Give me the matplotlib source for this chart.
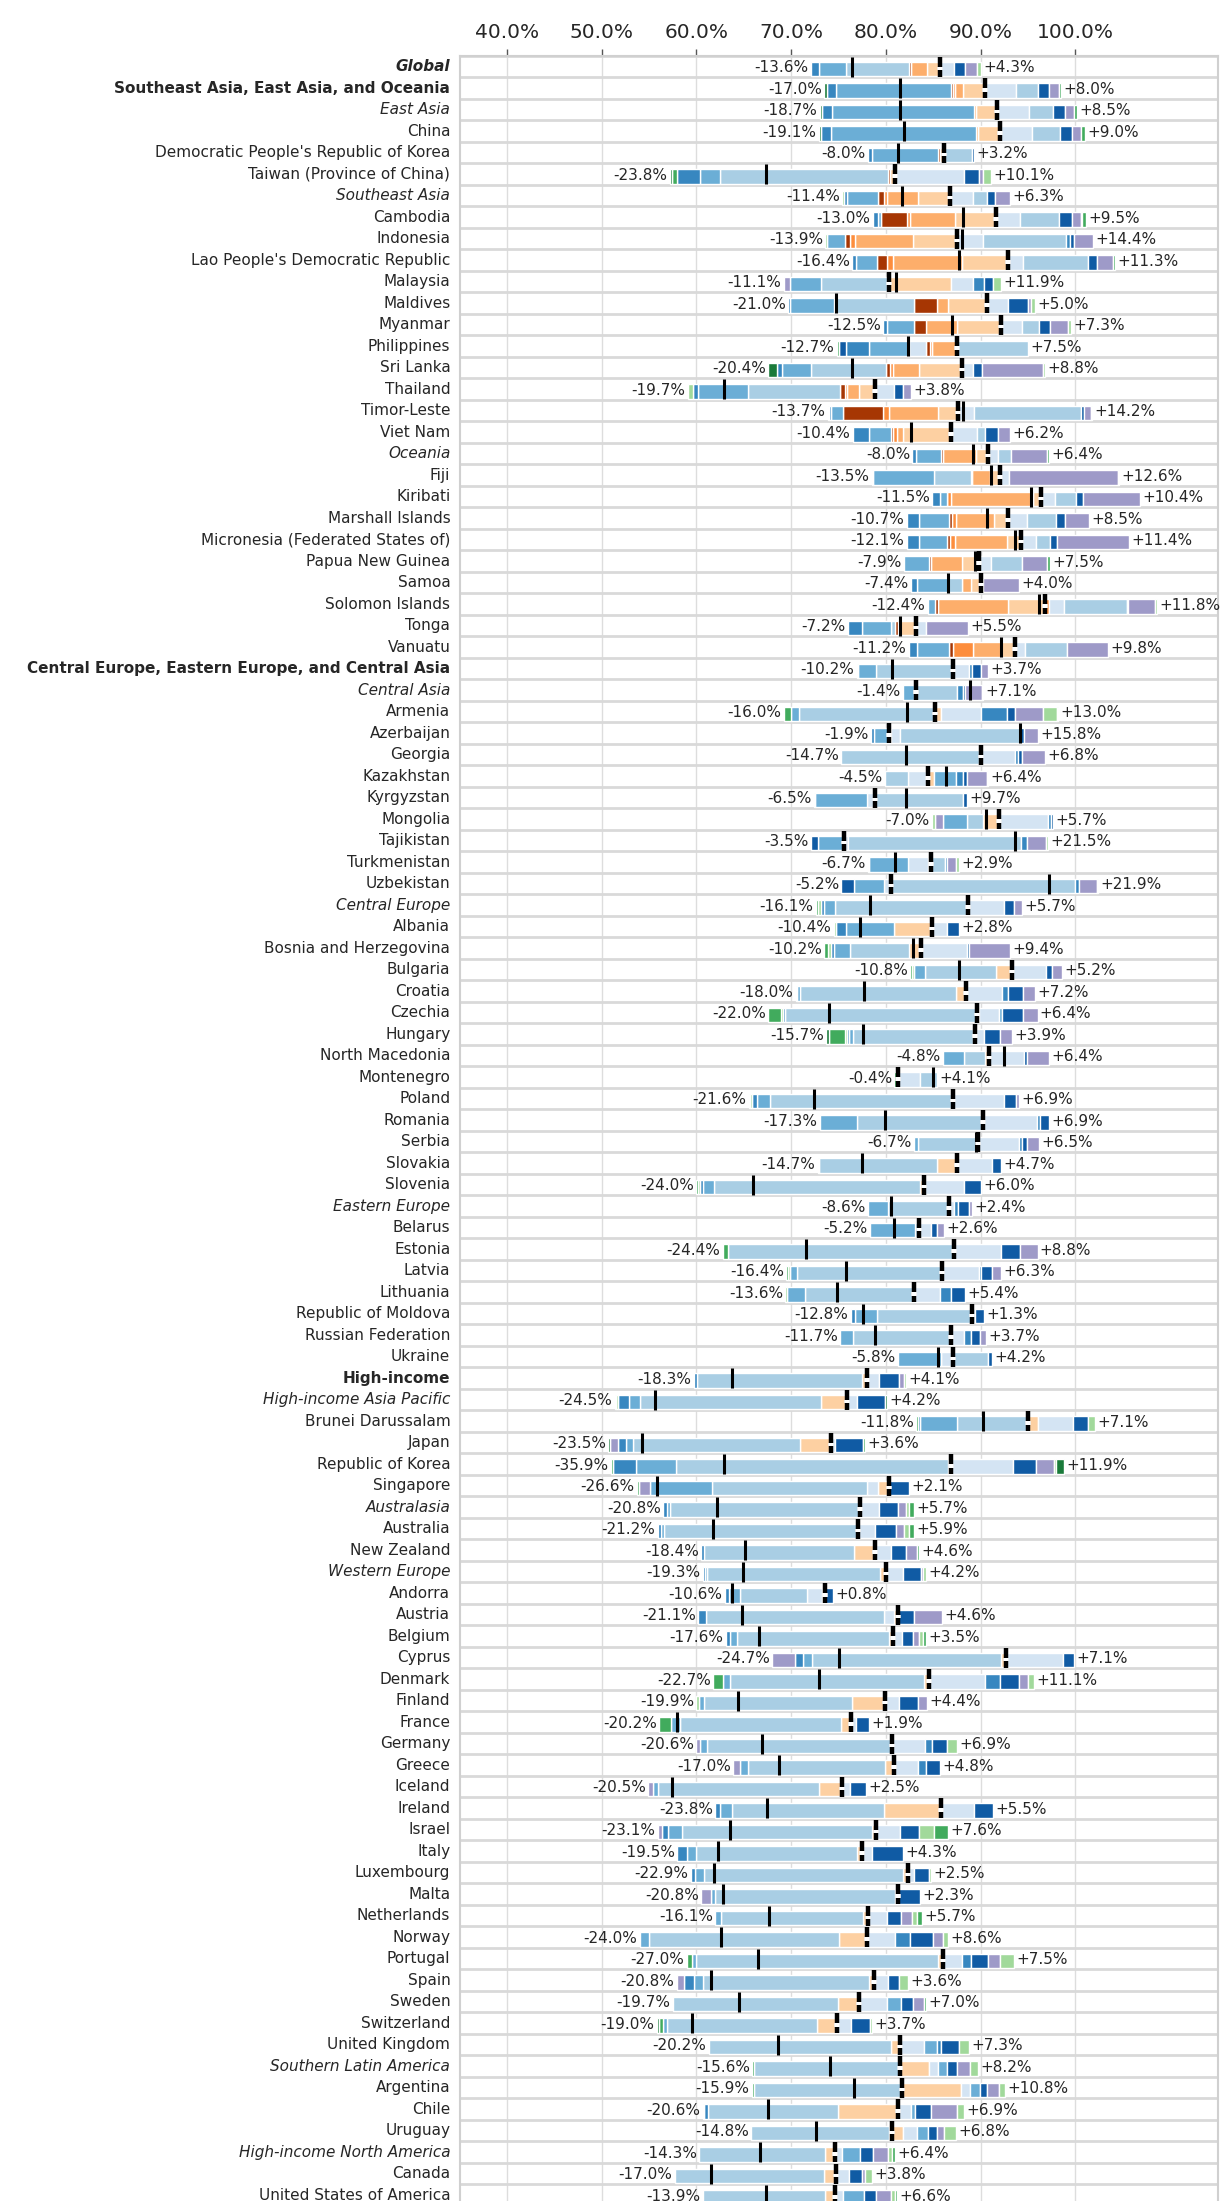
import matplotlib.pyplot as plt
import numpy as np

# rows, top to bottom
locations = [
    "Global", "Southeast Asia, East Asia, and Oceania", "East Asia", "China",
    "Democratic People's Republic of Korea", "Taiwan (Province of China)", "Southeast Asia",
    "Cambodia", "Indonesia", "Lao People's Democratic Republic", "Malaysia", "Maldives",
    "Myanmar", "Philippines", "Sri Lanka", "Thailand", "Timor-Leste", "Viet Nam", "Oceania",
    "Fiji", "Kiribati", "Marshall Islands", "Micronesia (Federated States of)",
    "Papua New Guinea", "Samoa", "Solomon Islands", "Tonga", "Vanuatu",
    "Central Europe, Eastern Europe, and Central Asia", "Central Asia", "Armenia",
    "Azerbaijan", "Georgia", "Kazakhstan", "Kyrgyzstan", "Mongolia", "Tajikistan",
    "Turkmenistan", "Uzbekistan", "Central Europe", "Albania", "Bosnia and Herzegovina",
    "Bulgaria", "Croatia", "Czechia", "Hungary", "North Macedonia", "Montenegro", "Poland",
    "Romania", "Serbia", "Slovakia", "Slovenia", "Eastern Europe", "Belarus", "Estonia",
    "Latvia", "Lithuania", "Republic of Moldova", "Russian Federation", "Ukraine",
    "High-income", "High-income Asia Pacific", "Brunei Darussalam", "Japan",
    "Republic of Korea", "Singapore", "Australasia", "Australia", "New Zealand",
    "Western Europe", "Andorra", "Austria", "Belgium", "Cyprus", "Denmark", "Finland",
    "France", "Germany", "Greece", "Iceland", "Ireland", "Israel", "Italy", "Luxembourg",
    "Malta", "Netherlands", "Norway", "Portugal", "Spain", "Sweden", "Switzerland",
    "United Kingdom", "Southern Latin America", "Argentina", "Chile", "Uruguay",
    "High-income North America", "Canada", "United States of America",
]
super_regions = ["Southeast Asia, East Asia, and Oceania",
                 "Central Europe, Eastern Europe, and Central Asia", "High-income"]
regions = ["East Asia", "Southeast Asia", "Oceania", "Central Asia", "Central Europe",
           "Eastern Europe", "High-income Asia Pacific", "Australasia", "Western Europe",
           "Southern Latin America", "High-income North America"]

# starting value (%) - the split marker
start = [
    85.7, 90.5, 91.7, 92.0, 86.1, 81.0, 86.8, 91.6, 87.5, 92.85,
    80.3, 90.7, 92.2, 87.5, 88.0, 78.8, 87.6, 86.9, 90.8, 92.0,
    96.4, 92.9, 94.3, 89.8, 90.0, 96.8, 83.2, 93.6, 87.1, 83.2,
    85.2, 80.3, 90.0, 84.4, 78.9, 91.9, 75.6, 84.8, 80.5, 88.7,
    84.9, 83.7, 93.35, 88.5, 89.6, 89.4, 90.85, 81.3, 87.1, 90.3,
    89.7, 87.5, 84.0, 86.7, 83.5, 87.2, 85.9, 83.0, 89.1, 86.9,
    87.05, 78.0, 75.9, 95.0, 74.2, 86.9, 80.3, 77.3, 77.1, 78.9,
    80.0, 73.6, 81.3, 80.7, 92.7, 84.5, 79.9, 76.3, 80.6, 80.9,
    75.4, 85.8, 79.0, 77.5, 82.3, 81.3, 78.1, 78.0, 86.0, 78.7,
    77.2, 74.8, 81.5, 81.5, 81.75, 81.3, 80.6, 74.6, 74.7, 74.6,
]
neg_total = [
    13.6, 17.0, 18.7, 19.1, 8.0, 23.8, 11.4, 13.0, 13.9, 16.4,
    11.1, 21.0, 12.5, 12.7, 20.4, 19.7, 13.7, 10.4, 8.0, 13.5,
    11.5, 10.7, 12.1, 7.9, 7.4, 12.4, 7.2, 11.2, 10.2, 1.4,
    16.0, 1.9, 14.7, 4.5, 6.5, 7.0, 3.5, 6.7, 5.2, 16.1,
    10.4, 10.2, 10.8, 18.0, 22.0, 15.7, 4.8, 0.4, 21.6, 17.3,
    6.7, 14.7, 24.0, 8.6, 5.2, 24.4, 16.4, 13.6, 12.8, 11.7,
    5.8, 18.3, 24.5, 11.8, 23.5, 35.9, 26.6, 20.8, 21.2, 18.4,
    19.3, 10.6, 21.1, 17.6, 24.7, 22.7, 19.9, 20.2, 20.6, 17.0,
    20.5, 23.8, 23.1, 19.5, 22.9, 20.8, 16.1, 24.0, 27.0, 20.8,
    19.7, 19.0, 20.2, 15.6, 15.9, 20.6, 14.8, 14.3, 17.0, 13.9,
]
pos_total = [
    4.3, 8.0, 8.5, 9.0, 3.2, 10.1, 6.3, 9.5, 14.4, 11.3,
    11.9, 5.0, 7.3, 7.5, 8.8, 3.8, 14.2, 6.2, 6.4, 12.6,
    10.4, 8.5, 11.4, 7.5, 4.0, 11.8, 5.5, 9.8, 3.7, 7.1,
    13.0, 15.8, 6.8, 6.4, 9.7, 5.7, 21.5, 2.9, 21.9, 5.7,
    2.8, 9.4, 5.2, 7.2, 6.4, 3.9, 6.4, 4.1, 6.9, 6.9,
    6.5, 4.7, 6.0, 2.4, 2.6, 8.8, 6.3, 5.4, 1.3, 3.7,
    4.2, 4.1, 4.2, 7.1, 3.6, 11.9, 2.1, 5.7, 5.9, 4.6,
    4.2, 0.8, 4.6, 3.5, 7.1, 11.1, 4.4, 1.9, 6.9, 4.8,
    2.5, 5.5, 7.6, 4.3, 2.5, 2.3, 5.7, 8.6, 7.5, 3.6,
    7.0, 3.7, 7.3, 8.2, 10.8, 6.9, 6.8, 6.4, 3.8, 6.6,
]

# contributions per component (percentage points, negative = decrease)
peach = [
    -1.4, -2.4, -2.2, -2.3, -0.35, -0.6, -3.4, -4.3, -4.6, -4.8,
    6.6, -4.1, -4.7, 0, -4.5, -1.6, -2.05, -5.1, -1.25, -1.0,
    -0.9, -1.5, -1.5, -1.8, -1.05, -3.95, -1.7, -1.4, -0.1, -0.2,
    0.6, 0.2, -0.2, 0.7, -0.1, -1.7, 0, -0.35, 0, -0.15,
    -4.05, -1.3, -1.75, -1.05, 0.25, -0.25, -0.35, 0, -0.2, 0,
    0, -2.1, -0.35, 0, 0, 0, 0, 0, 0, 0,
    0, -0.55, -2.8, 1.0, -3.3, -0.3, -1.1, -0.15, 0, -2.3,
    -0.65, -0.3, -0.4, -0.4, -0.5, -0.5, -3.5, -1.0, 0, -1.0,
    -2.5, -6.0, -0.5, -0.5, -0.5, -0.3, -0.5, -3.0, -0.5, -0.5,
    -2.3, -2.05, -1.0, 3.05, 6.2, -6.4, 1.25, -1.0, -1.2, -1.0,
]
light_orange = [
    -1.6, -0.8, -0.2, -0.2, 0, 0, -3.3, -4.8, -6.2, -7.3,
    -0.2, -1.2, -3.25, -2.6, -2.7, -1.35, -5.2, -0.65, -3.5, -1.9,
    -8.6, -4.0, -5.5, -3.2, -0.9, -7.4, 0, -3.0, 0, 0,
    0, 0, 0, -0.2, 0, 0, 0, 0, 0, 0,
] + [0] * 60
orange = [
    0, -0.2, 0, 0, 0, 0, -0.3, -0.3, -0.5, -0.65,
    0, 0, 0, -0.25, -0.35, -0.2, -0.65, -0.35, 0, 0,
    -0.4, -0.4, -0.5, 0, 0, 0.4, -0.25, -2.15, 0, 0,
] + [0] * 66 + [-0.3, 0, 0, 0]
brown = [
    -0.3, -0.2, 0, 0, -0.25, -0.2, -0.6, -2.7, -0.5, -1.05,
    0, -2.45, -1.25, -0.4, -0.45, -0.5, -4.25, -0.25, -0.2, -0.15,
    -0.1, -0.3, -0.3, -0.2, 0, -0.25, -0.3, -0.35, 0, 0,
] + [0] * 70
pale_blue = [
    1.5, 3.2, 3.4, 3.4, 0, 7.2, 2.4, 2.6, 2.7, 1.6,
    2.3, 2.2, 2.2, -1.8, 1.2, 2.1, 1.65, 2.75, 1.05, 0.95,
    1.4, 2.0, 1.5, 1.3, 0.3, 1.6, 1.0, 1.1, 1.65, 0,
    4.25, 1.0, 3.6, -1.9, -0.8, 5.2, 0.4, -2.15, -0.75, 3.75,
    1.6, 4.9, 3.5, 3.8, 2.05, 1.0, 3.7, 2.3, 5.35, 5.65,
    4.4, 3.75, 4.2, 0.45, 1.3, 4.9, 3.9, 2.7, 0.3, 1.3,
    -1.2, 1.25, 1.1, 3.75, 0.4, 6.5, -1.15, 2.0, 1.8, 1.6,
    1.8, -1.65, -1.15, 1.0, 6.0, 6.0, 1.5, 0.5, 3.5, 2.5,
    0.8, 3.5, 2.5, 1.0, 0.7, 0, 2.0, 3.0, 2.0, 1.5,
    2.95, 1.55, 2.55, 1.0, 0.95, 1.4, 1.45, 0.75, 1.4, 0.9,
]
light_blue = [
    -6.6, 2.4, 2.5, 3.0, 3.0, -17.7, 1.5, 4.1, 8.8, 6.9,
    -7.0, -8.4, 1.8, 7.5, -7.9, -9.7, 11.35, 0.85, 1.35, -3.9,
    2.3, 3.0, 1.5, 3.3, -1.45, 6.6, -0.4, 4.4, -8.05, 4.3,
    -14.4, 12.7, -14.5, -2.4, 9.25, -1.6, 18.3, 1.45, 19.5, -13.9,
    0, -6.15, -7.45, -16.5, -20.3, -12.6, -2.25, 1.8, -19.1, -13.4,
    -6.3, -12.45, -21.8, -6.5, -0.4, -23.9, -15.3, -11.55, -10.0, -10.4,
    3.7, -17.4, -19.0, -7.45, -17.6, -28.8, -16.4, -19.9, -20.5, -15.85,
    -18.25, -7.0, -18.75, -16.0, -20.0, -20.5, -15.6, -17.0, -19.5, -14.5,
    -17.0, -16.0, -20.0, -17.0, -21.0, -19.0, -15.0, -20.0, -25.5, -17.5,
    -17.4, -15.9, -19.2, -15.4, -15.65, -13.7, -14.5, -13.3, -15.8, -12.9,
]
mid_blue = [
    -2.9, -12.2, -15.0, -15.3, -7.0, -2.1, -3.3, -0.3, -1.9, -2.2,
    -3.2, -4.65, -2.9, -4.25, -3.1, -5.3, -1.2, -2.3, -2.7, -6.45,
    -0.7, -3.2, -3.0, -2.7, -3.35, -0.8, -3.1, -3.4, -1.9, -1.2,
    -0.85, -1.55, 0, 2.35, -5.45, -2.6, -2.8, -4.05, -3.1, -1.2,
    -5.1, -1.75, -1.2, -0.3, 0.35, -0.4, -2.2, 0, -1.45, -3.9,
    -0.4, 0, -1.2, -2.1, -4.8, 0, -0.7, -1.9, -2.4, -1.3,
    -4.6, 0, -1.25, -4.0, -0.75, -4.15, -6.5, -0.35, -0.35, 0,
    -0.2, -1.25, 0, -0.8, -1.0, -0.7, -0.5, -1.0, -0.7, -0.8,
    -0.5, -1.3, -1.5, -1.0, -0.9, -0.5, -0.6, -1.0, -0.5, -1.0,
    1.45, -0.35, 1.35, 0.9, 1.0, 0.4, 1.1, 1.95, 0, 2.2,
]
blue = [
    -0.8, -0.9, -1.0, -1.0, -0.4, -2.4, -0.3, -0.6, 0.45, -0.4,
    1.2, -0.2, -0.4, -2.4, -0.5, -0.5, -0.25, -1.75, -0.35, -0.1,
    -0.8, -1.3, -1.3, 0, -0.65, 0, -1.45, -0.9, 0.3, 0.6,
    2.75, -0.35, 0.35, 0.7, 0, 0.3, 0.55, 0.25, 0.4, -0.3,
    -1.05, -0.3, 0, 0.55, -0.2, -0.25, 0, 0, -0.45, 0.35,
    0.25, 0, -0.3, 0.45, 0, 0, 0.25, 1.2, -0.4, 0.8,
    0, -0.35, -1.1, -0.2, -0.85, -2.45, 0, -0.4, -0.35, -0.25,
    -0.2, -0.4, -0.8, -0.4, -0.8, 1.5, 0, 0, 0.8, 0.8,
    0, -0.5, -0.6, -1.0, -0.5, 0, 0, 1.5, 1.0, -1.0,
    0, 0, 0.4, 0, 0, -0.35, 0, 0, 0, 0,
]
dark_blue = [
    1.2, 1.1, 1.3, 1.2, 0.2, 1.6, 0.8, 1.3, 0.45, 0.9,
    0.9, 2.1, 1.15, -0.7, 0.95, 0.95, 0.35, 1.3, 0, 0,
    0.7, 1.0, 0.8, 0, 0, 0.2, 0, 0, 1.0, 0.3,
    0.8, 0.35, 0.45, 0.45, 0.45, 0.2, -0.7, 0, -1.35, 1.1,
    1.2, 0.2, 0.7, 1.65, 2.2, 1.6, 0.35, 0, 1.3, 0.9,
    0.5, 0.95, 1.8, 1.2, 0.6, 2.05, 1.15, 1.5, 1.0, 0.95,
    0.5, 2.1, 2.9, 1.6, 3.0, 2.45, 2.1, 1.95, 2.2, 1.65,
    1.9, 0.8, 1.7, 1.2, 1.1, 2.0, 2.0, 1.4, 1.6, 1.5,
    1.7, 2.0, 2.0, 3.3, 1.5, 2.3, 1.5, 2.5, 1.8, 1.2,
    1.3, 1.95, 1.9, 1.05, 0.8, 1.65, 0.95, 1.35, 1.35, 1.3,
]
purple = [
    1.2, 1.1, 1.0, 0.95, 0, 0.5, 1.6, 1.0, 2.0, 1.7,
    -0.7, 0.3, 1.85, 0, 6.4, 0.75, 0.7, 1.3, 3.85, 11.55,
    6.0, 2.5, 7.6, 2.65, 3.7, 2.85, 4.5, 4.3, 0.75, 1.75,
    2.95, 1.55, 2.4, 2.1, 0, -0.85, 2.05, 0.95, 1.85, 0.85,
    0, 4.3, 1.0, 1.2, 1.55, 1.3, 2.35, 0, 0.25, 0,
    1.35, 0, 0, 0.3, 0.7, 1.85, 1.0, 0, 0, 0.65,
    0, 0.55, 0, 0, -0.8, 1.9, -1.25, 0.9, 0.8, 1.1,
    0.2, 0, 2.9, 0.6, -2.4, 1.0, 0.9, 0, -0.4, -0.7,
    -0.5, 0, -0.5, 0, 0, -1.0, 1.2, 1.0, 1.2, -0.8,
    1.1, 0, 0, 1.4, 1.25, 2.75, 0.8, 1.6, 0.3, 1.5,
]
light_green = [
    0.4, 0, 0, 0, 0, 0.8, -0.2, 0.1, -0.2, 0,
    0.9, 0.4, 0.3, 0, 0.25, -0.55, -0.1, 0, 0, 0.1,
    0, 0, 0, 0, 0, 0.15, 0, 0, 0, 0.15,
    1.5, 0, 0, 0.1, 0, -0.25, 0.2, 0.25, 0.15, -0.3,
    -0.2, -0.35, -0.2, 0, -0.2, -0.25, 0, 0, -0.2, 0,
    0, 0, -0.2, 0, 0, 0, -0.2, -0.15, 0, 0,
    0, 0.2, -0.2, 0.75, 0, 0.25, 0, 0.3, 0.55, 0,
    0.3, 0, 0, 0.4, 0, 0.6, -0.3, 0, 1.0, 0,
    0, 0, 1.6, 0, 0.3, 0, 0.5, 0.6, 1.5, 0.9,
    0, 0.2, 1.1, 0.8, 0.6, 0.7, 1.25, 0.35, 0.75, 0.45,
]
green = [
    0, 0.2, 0.3, 0.45, 0, -0.6, 0, 0.4, 0, 0.2,
    0, 0, 0, -0.3, 0, 0, 0.15, 0, 0.15, 0,
    0, 0, 0, 0.25, 0, 0, 0, 0, -0.15, 0,
    -0.75, 0, 0, 0, -0.15, 0, 0, -0.15, 0, -0.25,
    0, -0.35, -0.2, -0.15, -1.3, -1.7, 0, -0.4, -0.2, 0,
    0, -0.15, -0.15, 0, 0, -0.5, -0.2, 0, 0, 0,
    0, 0, -0.15, -0.15, 0.2, -0.2, -0.2, 0.55, 0.55, 0.25,
    0, 0, 0, 0.3, 0, -1.0, 0, -1.2, 0, 0,
    0, 0, 1.5, 0, 0, 0, 0.5, 0, -0.5, 0,
    0.2, -0.4, 0, -0.2, -0.25, -0.15, 0, 0.4, 0, 0.25,
]
dark_green = [
    0, -0.3, -0.3, -0.3, 0, -0.2, 0, 0, 0, 0,
    0, 0, 0, 0, -0.9, 0, 0, 0, 0, 0,
    0, 0, 0, 0, 0, 0, 0, 0, 0, 0,
    0.15, 0, 0, 0, 0, 0, 0, 0, 0, 0,
    0, 0, 0, 0, 0, -0.25, 0, 0, 0, 0,
    0, 0, 0, 0, 0, 0, 0, 0, 0, 0,
    0, 0, 0.2, 0, -0.2, 0.8, 0, 0, 0, 0,
    0, 0, 0, 0, 0, 0, 0, 0, 0, 0,
    0, 0, 0, 0, 0, 0, 0, 0, 0, 0,
    0, -0.3, 0, 0, 0, 0, 0, 0, 0, 0,
]

# stacking order, outward from the start marker
components = [
    (peach, "#fdd0a2"), (light_orange, "#fdae6b"), (orange, "#fd8d3c"),
    (brown, "#a63603"), (pale_blue, "#d4e4f3"), (light_blue, "#a9cee4"),
    (mid_blue, "#6baed6"), (blue, "#3787c0"), (dark_blue, "#105ba4"),
    (purple, "#9e9ac8"), (light_green, "#a1d99b"), (green, "#41ab5d"),
    (dark_green, "#1a7a3a"),
]

n = len(locations)
rows = np.arange(n)
ybar = rows + 0.635
bar_h = 0.67
txt = "#262626"

fig = plt.figure(figsize=(12.21, 22.01), dpi=100)
ax = fig.add_axes([460 / 1221, -4.5 / 2201, 758 / 1221, 2150 / 2201])

base = np.array(start, dtype=float)
left_edge = base.copy()
right_edge = base.copy()
net = np.zeros(n)
for vals, col in components:
    v = np.array(vals, dtype=float)
    net += v
    neg = np.where(v < 0, -v, 0.0)
    pos = np.where(v > 0, v, 0.0)
    m = neg > 0
    ax.barh(ybar[m], neg[m], left=(left_edge - neg)[m], height=bar_h,
            color=col, edgecolor="white", linewidth=1, zorder=3)
    left_edge -= neg
    m = pos > 0
    ax.barh(ybar[m], pos[m], left=right_edge[m], height=bar_h,
            color=col, edgecolor="white", linewidth=1, zorder=3)
    right_edge += pos

final = base + net
# end value marker and split start marker
ax.vlines(final, rows + 0.05, rows + 0.98, colors="black", linewidth=2.2, zorder=5)
ax.vlines(base, rows + 0.05, rows + 0.98, colors="black", linewidth=3.2, zorder=5)
ax.vlines(base, rows + 0.53, rows + 0.68, colors="white", linewidth=4, zorder=6)

for i in range(n):
    ax.text(left_edge[i] - 0.25, rows[i] + 0.56, f"-{neg_total[i]:.1f}%",
            ha="right", va="center", fontsize=11, color=txt, zorder=7)
    ax.text(right_edge[i] + 0.25, rows[i] + 0.56, f"+{pos_total[i]:.1f}%",
            ha="left", va="center", fontsize=11, color=txt, zorder=7)

# row separators
for i in range(n + 1):
    ax.axhline(i, color="#d9d9d9", linewidth=2, zorder=1)

ax.set_xlim(35.05, 115.05)
ax.set_ylim(n, 0)
ticks = [40, 50, 60, 70, 80, 90, 100]
ax.set_xticks(ticks, labels=[f"{t:.1f}%" for t in ticks])
ax.xaxis.tick_top()
ax.tick_params(axis="x", labelsize=14.5, labelcolor=txt, length=5, width=1,
               color="#555555", pad=5)
ax.grid(axis="x", color="#dddddd", linewidth=1, zorder=0)
ax.set_axisbelow(True)

ax.set_yticks(rows + 0.45, labels=locations)
ax.tick_params(axis="y", length=0, pad=7, labelsize=11, labelcolor=txt)
for lab in ax.get_yticklabels():
    name = lab.get_text()
    if name == "Global":
        lab.set_fontweight("bold")
        lab.set_fontstyle("italic")
    elif name in super_regions:
        lab.set_fontweight("bold")
    elif name in regions:
        lab.set_fontstyle("italic")

for side in ["left", "right", "top"]:
    ax.spines[side].set_color("#d0d0d0")
    ax.spines[side].set_linewidth(1.5)
ax.spines["bottom"].set_visible(False)

fig.savefig("out.png", dpi=100)
